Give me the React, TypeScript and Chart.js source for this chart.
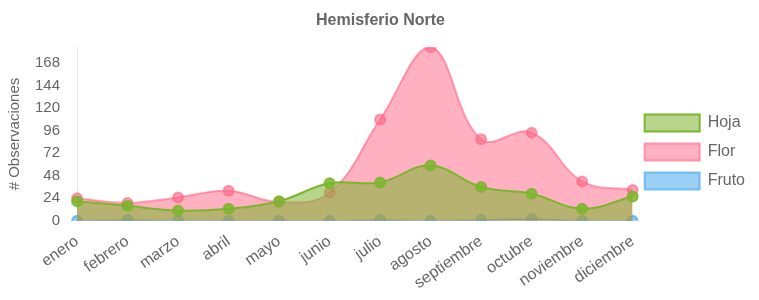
import React, { useEffect, useRef } from "react";
import { Chart, registerables } from "chart.js";

Chart.register(...registerables);

const months = ["enero", "febrero", "marzo", "abril", "mayo", "junio", "julio", "agosto", "septiembre", "octubre", "noviembre", "diciembre"];
const hoja = [21, 16, 11, 13, 21, 40, 41, 59, 36, 29, 13, 26];
const flor = [24, 19, 25, 32, 20, 30, 108, 185, 87, 94, 42, 33];
const fruto = [0, 1, 0, 0, 0, 0, 1, 0, 1, 2, 0, 0];
const yStep = 24;

export default function App() {
  const ref = useRef<HTMLCanvasElement | null>(null);
  useEffect(() => {
    if (!ref.current) return;
    const font = { family: "'Liberation Sans', Arial, sans-serif", size: 16 };
    const chart = new Chart(ref.current, {
      type: "line",
      data: {
        labels: months,
        datasets: [
          {
            label: "Hoja",
            data: hoja,
            borderColor: "rgba(124,181,46,1)",
            backgroundColor: "rgba(124,181,46,0.55)",
            pointBackgroundColor: "rgba(124,181,46,0.85)",
            pointBorderColor: "rgba(124,181,46,0.85)",
            fill: "origin",
            tension: 0.4,
            pointRadius: 5,
            borderWidth: 2,
          },
          {
            label: "Flor",
            data: flor,
            borderColor: "rgba(255,99,132,0.6)",
            backgroundColor: "rgba(255,99,132,0.5)",
            pointBackgroundColor: "rgba(255,99,132,0.6)",
            pointBorderColor: "rgba(255,99,132,0.6)",
            fill: "origin",
            tension: 0.4,
            pointRadius: 5,
            borderWidth: 2,
          },
          {
            label: "Fruto",
            data: fruto,
            borderColor: "rgba(54,162,235,0.6)",
            backgroundColor: "rgba(54,162,235,0.5)",
            pointBackgroundColor: "rgba(54,162,235,0.6)",
            pointBorderColor: "rgba(54,162,235,0.6)",
            fill: "origin",
            tension: 0.4,
            pointRadius: 5,
            borderWidth: 2,
          },
        ],
      },
      options: {
        responsive: true,
        maintainAspectRatio: false,
        animation: false,
        layout: { padding: { left: -2, right: 0, top: 0, bottom: 0 } },
        plugins: {
          title: {
            display: true,
            text: "Hemisferio Norte",
            color: "#666",
            font: { ...font, size: 16, weight: "bold" },
            padding: { top: 3, bottom: 17 },
          },
          legend: {
            position: "right",
            labels: {
              color: "#666",
              font,
              boxWidth: 55,
              boxHeight: 17,
              padding: 12,
            },
          },
          tooltip: { enabled: false },
        },
        scales: {
          x: {
            grid: { display: false },
            border: { display: true, color: "rgba(0,0,0,0.1)" },
            ticks: { color: "#666", font, minRotation: 35, maxRotation: 35 },
          },
          y: {
            min: 0,
            max: Math.max(...flor),
            grid: { display: false },
            border: { display: true, color: "rgba(0,0,0,0.1)" },
            title: {
              display: true,
              text: "# Observaciones",
              color: "#666",
              font: { ...font, size: 15 },
              padding: { top: 0, bottom: 2 },
            },
            ticks: { color: "#666", font: { ...font, size: 15 }, stepSize: yStep, includeBounds: false, padding: 9 },
          },
        },
      },
    });
    return () => chart.destroy();
  }, []);
  return (
    <div style={{ width: 747, height: 288, position: "relative" }}>
      <canvas ref={ref} />
    </div>
  );
}
